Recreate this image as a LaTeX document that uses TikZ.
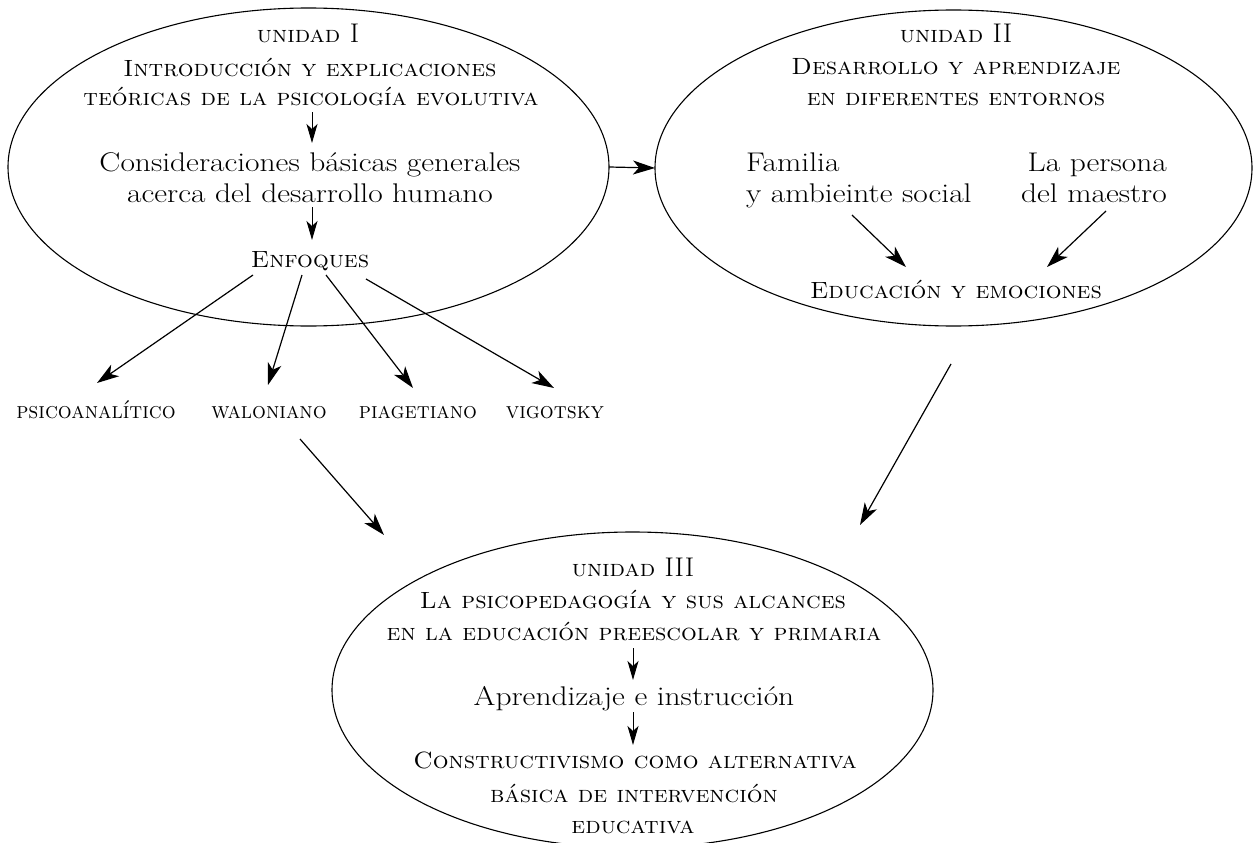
\documentclass[tikz,border=0pt]{standalone}
\usepackage{fontspec}
\usepackage{graphicx}
\usetikzlibrary{arrows.meta,shapes.geometric}

\tikzset{
  unit/.style={draw, ellipse, line width=1.1pt, inner sep=0pt, outer sep=0pt},
  sc/.style={inner sep=0pt, anchor=base, font=\fontsize{23.5}{26}\selectfont\scshape},
  rm/.style={inner sep=0pt, anchor=base, font=\fontsize{27}{30}\selectfont},
  lab/.style={inner sep=0pt, anchor=base, font=\fontsize{23}{26}\selectfont\scshape},
  arr/.style={-{Stealth[length=22pt,width=14pt,inset=6pt]}, line width=1.2pt},
  sarr/.style={-{Stealth[length=19pt,width=11pt,inset=5pt]}, line width=1pt},
}
% horizontally adjusted text for the caps lines, the plain lines and the labels
\newcommand{\hs}[1]{\scalebox{1.055}[1]{#1}}
\newcommand{\hr}[1]{\scalebox{1.165}[1]{#1}}
\newcommand{\hl}[1]{\scalebox{0.95}[1]{#1}}
\newcommand{\numeral}[1]{{\fontsize{27}{30}\selectfont\upshape #1}}

\begin{document}
\begin{tikzpicture}[x=1pt,y=-1pt]
\useasboundingbox (0,0) rectangle (1254,843);

% the three units
\node[unit, minimum width=601pt, minimum height=318pt] (e1) at (308.5,167) {};
\node[unit, minimum width=597pt, minimum height=316pt] (e2) at (953.5,168) {};
\node[unit, minimum width=601pt, minimum height=316pt] (e3) at (632.5,690) {};

% unit I
\node[sc] (u1)  at (308,43)  {\hs{unidad \numeral{I}}};
\node[sc] (t1a) at (310,77)  {\hs{Introducción y explicaciones}};
\node[sc] (t1b) at (311,106) {\hs{teóricas de la psicología evolutiva}};
\node[rm] (c1a) at (310,171) {\hr{Consideraciones básicas generales}};
\node[rm] (c1b) at (310,202) {\hr{acerca del desarrollo humano}};
\node[sc] (enf) at (310,267) {\hs{Enfoques}};

% approaches
\node[lab] (psi) at (96,418)  {\hl{psicoanalítico}};
\node[lab] (wal) at (269,418) {\hl{waloniano}};
\node[lab] (pia) at (418,418) {\hl{piagetiano}};
\node[lab] (vig) at (555,418) {\hl{vigotsky}};

% unit II
\node[sc] (u2)  at (956,43)  {\hs{unidad \numeral{II}}};
\node[sc] (t2a) at (956,75)  {\hs{Desarrollo y aprendizaje}};
\node[sc] (t2b) at (956,106) {\hs{en diferentes entornos}};
\node[rm, anchor=base west] (fa) at (746,171) {\hr{Familia}};
\node[rm, anchor=base west] (fb) at (746,202) {\hr{y ambieinte social}};
\node[rm, anchor=base east] (pa) at (1167,171) {\hr{La persona}};
\node[rm, anchor=base east] (pb) at (1167,202) {\hr{del maestro}};
\node[sc] (edu) at (956,298) {\hs{Educación y emociones}};

% unit III
\node[sc] (u3)  at (633,576) {\hs{unidad \numeral{III}}};
\node[sc] (t3a) at (633,608) {\hs{La psicopedagogía y sus alcances}};
\node[sc] (t3b) at (634,640) {\hs{en la educación preescolar y primaria}};
\node[rm] (ap)  at (634,705) {\hr{Aprendizaje e instrucción}};
\node[sc] (co)  at (635,768) {\hs{Constructivismo como alternativa}};
\node[sc] (cb)  at (634,802) {\hs{básica de intervención}};
\node[sc] (cc)  at (633,833) {\hs{educativa}};

% connector end points
\coordinate (a1s) at (312,112); \coordinate (a1e) at (312,143);
\coordinate (a2s) at (312,207); \coordinate (a2e) at (312,240);
\coordinate (f1) at (253,275);  \coordinate (p1) at (97,383);
\coordinate (f2) at (302,275);  \coordinate (p2) at (268,385);
\coordinate (f3) at (326,275);  \coordinate (p3) at (413,388);
\coordinate (f4) at (366,279);  \coordinate (p4) at (554,388);
\coordinate (fam) at (852,215); \coordinate (fam2) at (906,267);
\coordinate (mae) at (1106,211); \coordinate (mae2) at (1047,267);
\coordinate (w3s) at (300,439); \coordinate (w3e) at (384,535);
\coordinate (u3s) at (951,364); \coordinate (u3e) at (860,525);
\coordinate (b1s) at (633,648); \coordinate (b1e) at (633,680);
\coordinate (b2s) at (633,712); \coordinate (b2e) at (633,745);

% connectors
\draw[sarr] (a1s) -- (a1e);
\draw[sarr] (a2s) -- (a2e);
\draw[arr] (f1) -- (p1);
\draw[arr] (f2) -- (p2);
\draw[arr] (f3) -- (p3);
\draw[arr] (f4) -- (p4);
\draw[arr] (e1.east) -- (e2.west);
\draw[arr] (fam) -- (fam2);
\draw[arr] (mae) -- (mae2);
\draw[arr] (w3s) -- (w3e);
\draw[arr] (u3s) -- (u3e);
\draw[sarr] (b1s) -- (b1e);
\draw[sarr] (b2s) -- (b2e);
\end{tikzpicture}
\end{document}
